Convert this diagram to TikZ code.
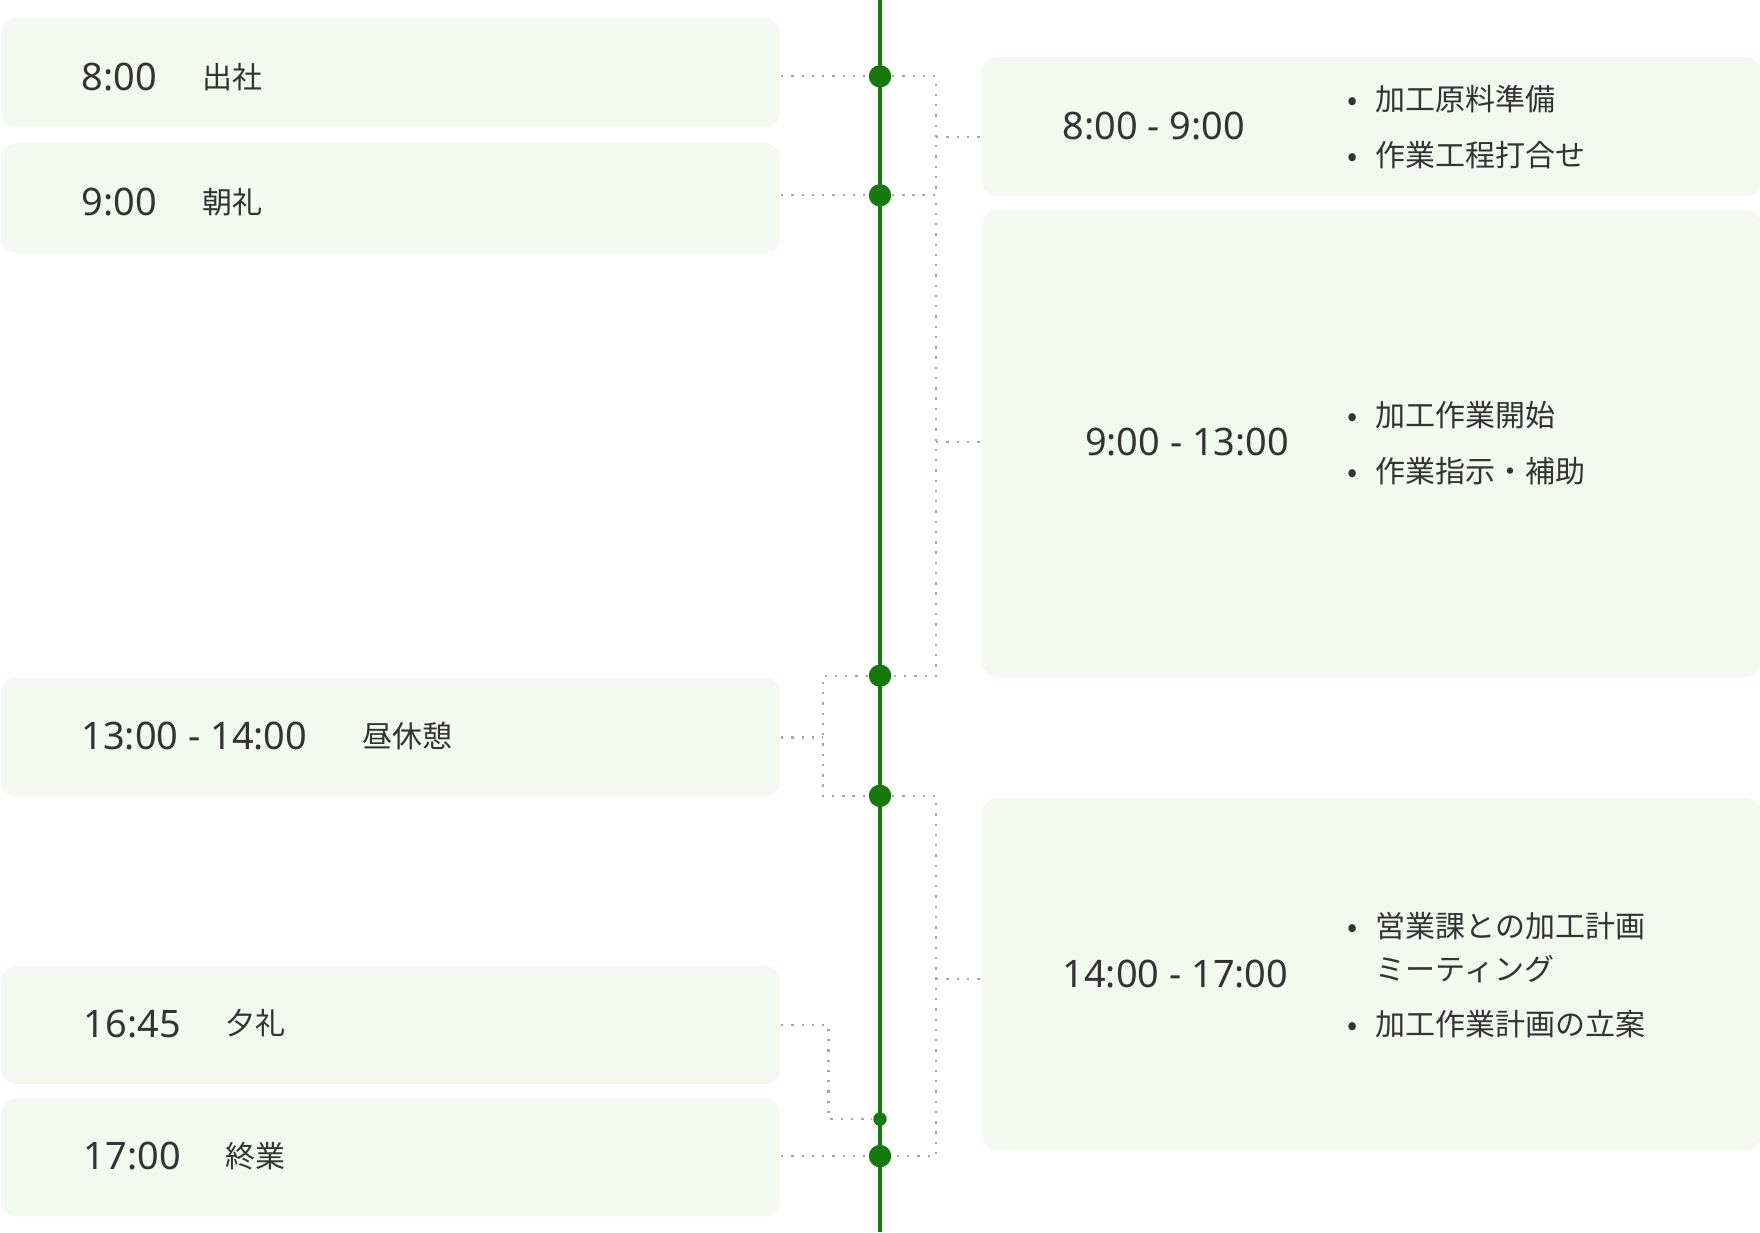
\documentclass[tikz,border=0pt]{standalone}
\usepackage{fontspec}
\setmainfont{Noto Sans CJK JP}
\newfontfamily\timefont{Noto Sans}
\usetikzlibrary{positioning,calc}
\definecolor{boxfill}{HTML}{F3F8F1}
\definecolor{lineg}{HTML}{157A0B}
\definecolor{txt}{HTML}{333333}
\tikzset{
  box/.style={fill=boxfill, rounded corners=0.14cm, anchor=north west, inner sep=0pt},
  tm/.style={anchor=west, font=\timefont\bfseries\fontsize{9.6}{11}\selectfont, text=txt, inner sep=0pt},
  jp/.style={anchor=west, font=\fontsize{7.6}{11}\selectfont, text=txt, inner sep=0pt},
  dot/.style={circle, fill=lineg, minimum size=0.2cm, inner sep=0pt},
  sdot/.style={circle, fill=lineg, minimum size=0.12cm, inner sep=0pt},
  link/.style={gray!70, dotted, line width=0.6pt}
}
\begin{document}
\begin{tikzpicture}[x=0.01cm, y=-0.01cm]
	\useasboundingbox (0,0) rectangle (1568,1098);
	% boxes
	\node[box, minimum width=6.94cm, minimum height=0.98cm] (b1) at (0,15) {};
	\node[box, minimum width=6.94cm, minimum height=0.98cm] (b2) at (0,127) {};
	\node[box, minimum width=6.94cm, minimum height=1.06cm] (b3) at (0,603) {};
	\node[box, minimum width=6.94cm, minimum height=1.05cm] (b4) at (0,860) {};
	\node[box, minimum width=6.94cm, minimum height=1.05cm] (b5) at (0,978) {};
	\node[box, minimum width=6.94cm, minimum height=1.24cm] (ra) at (874,50) {};
	\node[box, minimum width=6.94cm, minimum height=4.16cm] (rb) at (874,186) {};
	\node[box, minimum width=6.94cm, minimum height=3.14cm] (rc) at (874,710) {};

	% left texts
	\node[tm] (t1) at (72,69) {8:00};
	\node[jp] (j1) at (180,69) {出社};
	\node[tm] (t2) at (72,180) {9:00};
	\node[jp] (j2) at (180,180) {朝礼};
	\node[tm] (t3) at (72,656) {13:00 - 14:00};
	\node[jp] (j3) at (322,656) {昼休憩};
	\node[tm] (t4) at (74,912) {16:45};
	\node[jp] (j4) at (200,912) {夕礼};
	\node[tm] (t5) at (74,1030) {17:00};
	\node[jp] (j5) at (200,1030) {終業};

	% right texts
	\node[tm] (ta) at (946,112) {8:00 - 9:00};
	\node[jp] (ja1) at (1200,88) {•\hspace{0.6em}加工原料準備};
	\node[jp] (ja2) at (1200,138) {•\hspace{0.6em}作業工程打合せ};
	\node[tm] (tb) at (966,394) {9:00 - 13:00};
	\node[jp] (jb1) at (1200,370) {•\hspace{0.6em}加工作業開始};
	\node[jp] (jb2) at (1200,420) {•\hspace{0.6em}作業指示・補助};
	\node[tm] (tc) at (946,868) {14:00 - 17:00};
	\node[jp, align=left] (jc1) at (1200,844) {•\hspace{0.6em}営業課との加工計画\\\hphantom{•\hspace{0.6em}}ミーティング};
	\node[jp] (jc2) at (1200,912) {•\hspace{0.6em}加工作業計画の立案};

	% timeline
	\coordinate (top) at (784,0);
	\coordinate (bot) at (784,1098);
	\draw[lineg, line width=1.1pt] (top) -- (bot);
	\node[dot] (d1) at (784,68) {};
	\node[dot] (d2) at (784,174) {};
	\node[dot] (d3) at (784,602) {};
	\node[dot] (d4) at (784,709) {};
	\node[sdot] (d5) at (784,997) {};
	\node[dot] (d6) at (784,1030) {};

	% links
	\draw[link] (b1.east |- d1) -- (d1);
	\draw[link] (b2.east |- d2) -- (d2);
	\draw[link] (d1) -- (834,68) -- (834,174) -- (d2);
	\draw[link] (834,122) -- (ra.west |- 0,122);
	\draw[link] (d2) -- (834,174) -- (834,602) -- (d3);
	\draw[link] (834,394) -- (rb.west |- 0,394);
	\draw[link] (d3) -- (733,602) -- (733,709) -- (d4);
	\draw[link] (b3.east |- 0,657) -- (733,657);
	\draw[link] (d4) -- (834,709) -- (834,1030) -- (d6);
	\draw[link] (834,872) -- (rc.west |- 0,872);
	\draw[link] (b4.east |- 0,913) -- (738,913) -- (738,997) -- (d5);
	\draw[link] (b5.east |- d6) -- (d6);
\end{tikzpicture}
\end{document}
